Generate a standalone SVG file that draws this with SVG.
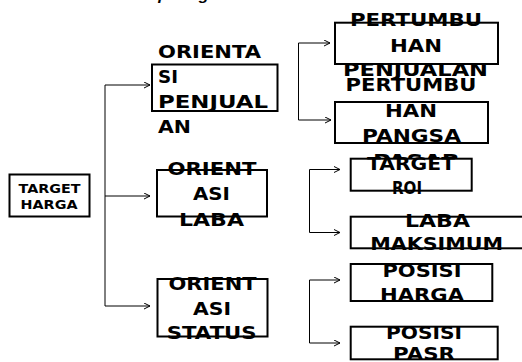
<svg xmlns="http://www.w3.org/2000/svg" width="522" height="362" viewBox="0 0 522 362">
<style>
.box{fill:#fff;stroke:#000;stroke-width:2}
.t{font-family:"DejaVu Sans","Liberation Sans",Arial,sans-serif;font-weight:bold;font-size:17.5px;fill:#000}
.c{text-anchor:middle}
.s{font-size:12.5px}
.cap{font-family:"Liberation Sans",Arial,sans-serif;font-weight:bold;font-style:italic;font-size:15px;fill:#000}
.ln{fill:none;stroke:#000;stroke-width:1}
</style>
<defs>
<marker id="ar" markerUnits="userSpaceOnUse" markerWidth="8" markerHeight="8" refX="6" refY="3.5" orient="auto">
<path d="M0,0.5 L6,3.5 L0,6.5" fill="none" stroke="#000" stroke-width="1"/>
</marker>
</defs>
<rect width="522" height="362" fill="#fff"/>
<text class="cap" x="140" y="-0.5" textLength="223" lengthAdjust="spacingAndGlyphs">seperti gambar dibawah ini :</text>

<g id="connectors">
<path class="ln" d="M105,85 V306"/>
<path class="ln" d="M105,85 H150" marker-end="url(#ar)"/>
<path class="ln" d="M105,196 H150" marker-end="url(#ar)"/>
<path class="ln" d="M105,306 H150" marker-end="url(#ar)"/>
<path class="ln" d="M298.5,43 V120"/>
<path class="ln" d="M298.5,43 H330" marker-end="url(#ar)"/>
<path class="ln" d="M298.5,120 H331" marker-end="url(#ar)"/>
<path class="ln" d="M309.5,169.5 V232.5"/>
<path class="ln" d="M309.5,169.5 H340" marker-end="url(#ar)"/>
<path class="ln" d="M309.5,232.5 H340" marker-end="url(#ar)"/>
<path class="ln" d="M309.5,280 V343"/>
<path class="ln" d="M309.5,280 H340" marker-end="url(#ar)"/>
<path class="ln" d="M309.5,343 H340" marker-end="url(#ar)"/>
</g>

<g id="target-harga">
<rect class="box" x="9.5" y="174.5" width="80" height="42"/>
<text class="t s c" x="49.5" y="192.5" textLength="62" lengthAdjust="spacingAndGlyphs">TARGET</text>
<text class="t s c" x="49" y="209" textLength="57" lengthAdjust="spacingAndGlyphs">HARGA</text>
</g>

<g id="orientasi-penjualan">
<rect class="box" x="152" y="64.5" width="125.5" height="46.5"/>
<text class="t" x="158" y="57.5" textLength="103" lengthAdjust="spacingAndGlyphs">ORIENTA</text>
<text class="t" x="158" y="82.7" textLength="20" lengthAdjust="spacingAndGlyphs">SI</text>
<text class="t" x="158" y="108.3" textLength="110" lengthAdjust="spacingAndGlyphs">PENJUAL</text>
<text class="t" x="158" y="132.7" textLength="33" lengthAdjust="spacingAndGlyphs">AN</text>
</g>

<g id="orientasi-laba">
<rect class="box" x="157" y="170" width="110" height="46.5"/>
<text class="t c" x="212" y="174.5" textLength="89" lengthAdjust="spacingAndGlyphs">ORIENT</text>
<text class="t c" x="211.5" y="200" textLength="37" lengthAdjust="spacingAndGlyphs">ASI</text>
<text class="t c" x="211.5" y="226" textLength="65" lengthAdjust="spacingAndGlyphs">LABA</text>
</g>

<g id="orientasi-status">
<rect class="box" x="157.5" y="279" width="110" height="57.5"/>
<text class="t c" x="212.5" y="290" textLength="88" lengthAdjust="spacingAndGlyphs">ORIENT</text>
<text class="t c" x="212" y="315" textLength="38" lengthAdjust="spacingAndGlyphs">ASI</text>
<text class="t c" x="211.7" y="338.5" textLength="90" lengthAdjust="spacingAndGlyphs">STATUS</text>
</g>

<g id="pertumbuhan-penjualan">
<rect class="box" x="335" y="22.7" width="163" height="41.3"/>
<text class="t c" x="416" y="26" textLength="132" lengthAdjust="spacingAndGlyphs">PERTUMBU</text>
<text class="t c" x="416" y="52" textLength="52" lengthAdjust="spacingAndGlyphs">HAN</text>
<text class="t c" x="415.5" y="76" textLength="145" lengthAdjust="spacingAndGlyphs">PENJUALAN</text>
</g>

<g id="pertumbuhan-pangsa-pasar">
<rect class="box" x="335" y="102" width="153" height="41"/>
<text class="t c" x="411" y="91" textLength="131" lengthAdjust="spacingAndGlyphs">PERTUMBU</text>
<text class="t c" x="411" y="117" textLength="52" lengthAdjust="spacingAndGlyphs">HAN</text>
<text class="t c" x="411.5" y="141.5" textLength="99" lengthAdjust="spacingAndGlyphs">PANGSA</text>
<text class="t c" x="416.5" y="166.5" textLength="87" lengthAdjust="spacingAndGlyphs">PASAR</text>
</g>

<g id="target-roi">
<rect class="box" x="350.7" y="158.7" width="121" height="32"/>
<text class="t c" x="411" y="170" textLength="88" lengthAdjust="spacingAndGlyphs">TARGET</text>
<text class="t c" x="407" y="194" textLength="30" lengthAdjust="spacingAndGlyphs">ROI</text>
</g>

<g id="laba-maksimum">
<rect class="box" x="350.7" y="216.7" width="174" height="31.6"/>
<text class="t c" x="437.5" y="227" textLength="65" lengthAdjust="spacingAndGlyphs">LABA</text>
<text class="t c" x="436.7" y="250" textLength="133" lengthAdjust="spacingAndGlyphs">MAKSIMUM</text>
</g>

<g id="posisi-harga">
<rect class="box" x="350.7" y="264" width="141.6" height="37"/>
<text class="t c" x="422" y="277" textLength="79" lengthAdjust="spacingAndGlyphs">POSISI</text>
<text class="t c" x="422" y="301" textLength="84" lengthAdjust="spacingAndGlyphs">HARGA</text>
</g>

<g id="posisi-pasr">
<rect class="box" x="350.7" y="326.7" width="147" height="32.6"/>
<text class="t c" x="424" y="338.5" textLength="76" lengthAdjust="spacingAndGlyphs">POSISI</text>
<text class="t c" x="424" y="360" textLength="62" lengthAdjust="spacingAndGlyphs">PASR</text>
</g>
</svg>
